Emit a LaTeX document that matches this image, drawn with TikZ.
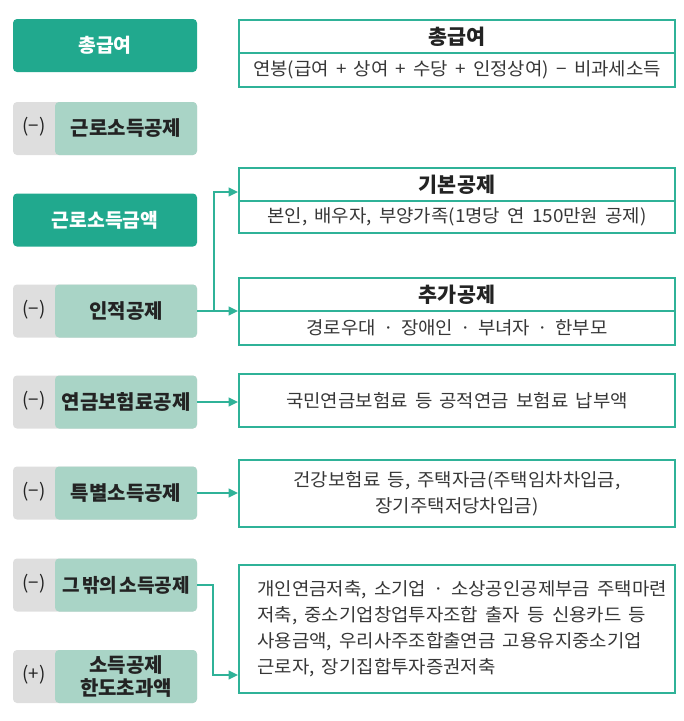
\documentclass[tikz,border=0pt]{standalone}
\usepackage{fontspec}
\setmainfont{Noto Sans CJK KR}
\newfontfamily\bodyfam{Noto Sans CJK KR}[FakeStretch=1.05]
\usetikzlibrary{arrows.meta,calc}
\definecolor{dgreen}{RGB}{33,169,142}
\definecolor{lgreen}{RGB}{169,212,198}
\definecolor{lgray}{RGB}{222,222,222}
\definecolor{tealline}{RGB}{47,178,152}
\definecolor{txt}{RGB}{55,55,55}
\definecolor{lbl}{RGB}{35,35,35}
\newcommand\bodyfnt{\bodyfam\fontsize{13.5}{19.5}\selectfont\spaceskip=0.4em plus 0.1em\relax}
\newcommand\lblfnt{\bfseries\fontsize{15}{17}\selectfont\spaceskip=0.12em\relax}
\begin{document}
\begin{tikzpicture}[x=0.75pt,y=-0.75pt,
  dbox/.style={fill=dgreen, rounded corners=3pt, minimum width=138pt, minimum height=39.75pt, inner sep=0pt, text=white, font=\bfseries\fontsize{14.5}{17}\selectfont},
  graybox/.style={fill=lgray, rounded corners=3pt, minimum width=138pt, minimum height=39.75pt, inner sep=0pt},
  gbox/.style={fill=lgreen, rounded corners=3pt, minimum width=106.5pt, minimum height=39.75pt, inner sep=0pt, text=lbl, align=center, font=\lblfnt},
  signtxt/.style={text=lbl, inner sep=0pt, font=\fontsize{14}{16}\selectfont},
  hdr/.style={draw=tealline, line width=1.4pt, minimum width=327pt, minimum height=24.75pt, inner sep=0pt, text=lbl, font=\bfseries\fontsize{15.5}{18}\selectfont},
  bodybox/.style={draw=tealline, line width=1.4pt, minimum width=327pt, inner sep=0pt, text=txt, align=center, font=\bodyfnt},
  bodytxt/.style={inner sep=0pt, text=txt, align=left, font=\bodyfnt},
  arr/.style={draw=tealline, line width=1.4pt, -{Triangle[length=7pt,width=6.5pt]}}
]
\useasboundingbox (0,0) rectangle (684,721);

% row 1
\node[dbox] (l1) at (105,45.5) {총급여};
\node[hdr] (h1) at (457,36.5) {총급여};
\node[bodybox, minimum height=25.5pt] (t1) at (457,70) {연봉(급여 + 상여 + 수당 + 인정상여) − 비과세소득};

% row 2
\node[graybox] (s2) at (105,128.5) {};
\node[gbox] (l2) at (126,128.5) {근로소득공제};
\node[signtxt] (m2) at (34,127) {(−)};

% row 3
\node[dbox] (l3) at (105,220) {근로소득금액};
\node[hdr] (h3) at (457,184.5) {기본공제};
\node[bodybox, minimum height=24pt] (t3) at (457,217) {본인, 배우자, 부양가족(1명당 연 150만원 공제)};

% row 4
\node[graybox] (s4) at (105,311) {};
\node[gbox] (l4) at (126,311) {인적공제};
\node[signtxt] (m4) at (34,309.5) {(−)};
\node[hdr] (h4) at (457,294.5) {추가공제};
\node[bodybox, minimum height=25.5pt] (t4) at (457,328) {경로우대 · 장애인 · 부녀자 · 한부모};

% row 5
\node[graybox] (s5) at (105,402) {};
\node[gbox] (l5) at (126,402) {연금보험료공제};
\node[signtxt] (m5) at (34,400.5) {(−)};
\node[bodybox, minimum height=39.75pt] (b5) at (457,400.5) {국민연금보험료 등 공적연금 보험료 납부액};

% row 6
\node[graybox] (s6) at (105,493) {};
\node[gbox] (l6) at (126,493) {특별소득공제};
\node[signtxt] (m6) at (34,491.5) {(−)};
\node[bodybox, minimum height=50.25pt] (b6) at (457,493.5) {건강보험료 등, 주택자금(주택임차차입금,\\장기주택저당차입금)};

% row 7
\node[graybox] (s7) at (105,585) {};
\node[gbox, font=\lblfnt\fontsize{14.3}{17}\selectfont] (l7) at (126,585) {그 밖의 소득공제};
\node[signtxt] (m7) at (34,583.5) {(−)};

% row 8
\node[graybox] (s8) at (105,676.5) {};
\node[gbox] (l8) at (126,676.5) {소득공제\\한도초과액};
\node[signtxt] (m8) at (34,675) {(+)};

\node[bodybox, minimum height=96pt] (b7) at (457,629) {};
\node[bodytxt, anchor=west] (b7t) at (257,628.5) {개인연금저축, 소기업 · 소상공인공제부금 주택마련\\저축, 중소기업창업투자조합 출자 등 신용카드 등\\사용금액, 우리사주조합출연금 고용유지중소기업\\근로자, 장기집합투자증권저축};

% connectors
\draw[arr] (l4.east) -- (l4.east -| h4.west);
\coordinate (j1) at (214,311);
\draw[arr] (j1) |- ($(h3.west)+(0,7.5)$);
\draw[arr] (l5.east) -- (l5.east -| b5.west);
\draw[arr] (l6.east) -- (l6.east -| b6.west);
\coordinate (j2) at (213,675);
\draw[arr] (l7.east) -| (j2) -- (j2 -| b7.west);
\end{tikzpicture}
\end{document}
